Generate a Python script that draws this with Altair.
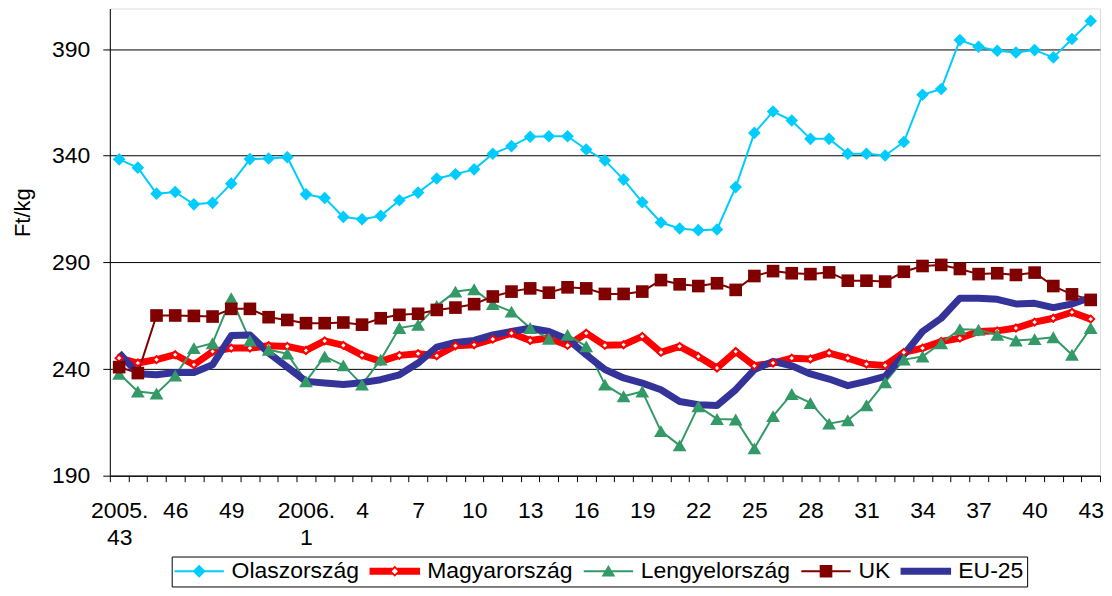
import altair as alt
import pandas as pd

series_names = ["Olaszország", "Magyarország", "Lengyelország", "UK", "EU-25"]
series_colors = ["#00CCFF", "#FF0000", "#339966", "#800000", "#333399"]

weeks = ["2005.43", "2005.44", "2005.45", "2005.46", "2005.47", "2005.48", "2005.49",
         "2005.50", "2005.51", "2005.52",
         "2006.1", "2006.2", "2006.3", "2006.4", "2006.5", "2006.6", "2006.7", "2006.8",
         "2006.9", "2006.10", "2006.11", "2006.12", "2006.13", "2006.14", "2006.15",
         "2006.16", "2006.17", "2006.18", "2006.19", "2006.20", "2006.21", "2006.22",
         "2006.23", "2006.24", "2006.25", "2006.26", "2006.27", "2006.28", "2006.29",
         "2006.30", "2006.31", "2006.32", "2006.33", "2006.34", "2006.35", "2006.36",
         "2006.37", "2006.38", "2006.39", "2006.40", "2006.41", "2006.42", "2006.43"]

tick_labels = ["2005.\n43", "", "", "46", "", "", "49", "", "", "",
               "2006.\n1", "", "", "4", "", "", "7", "", "", "10", "", "", "13",
               "", "", "16", "", "", "19", "", "", "22", "", "", "25", "", "", "28",
               "", "", "31", "", "", "34", "", "", "37", "", "", "40", "", "", "43"]

olasz = [338.3, 334.4, 322.2, 323.0, 317.2, 317.9, 326.9, 338.4, 338.7, 339.3,
         321.9, 320.2, 311.3, 310.2, 311.8, 319.1, 322.7, 329.3, 331.3, 333.6,
         340.9, 344.5, 348.9, 349.1, 349.1, 342.9, 337.8, 328.8, 318.2, 308.7,
         305.9, 305.1, 305.4, 325.3, 350.7, 360.7, 356.5, 347.9, 347.9, 340.9,
         340.9, 340.1, 346.4, 368.6, 371.3, 394.2, 391.1, 389.2, 388.4, 389.5,
         386.1, 394.7, 403.2]

magyar = [245.1, 242.8, 244.4, 246.7, 242.0, 248.2, 249.8, 249.8, 250.9, 250.6,
          248.7, 253.2, 251.1, 246.5, 243.6, 246.4, 247.2, 246.2, 250.9, 251.4,
          254.0, 256.8, 253.4, 254.5, 251.1, 256.8, 251.1, 251.4, 255.3, 247.8,
          250.6, 245.9, 240.5, 248.2, 241.5, 242.8, 245.1, 244.7, 247.5, 245.1,
          242.3, 241.7, 247.8, 249.8, 252.9, 254.5, 257.6, 257.9, 259.2, 262.0,
          263.8, 266.6, 263.4]

lengyel = [237.8, 229.5, 228.5, 236.9, 249.8, 252.1, 273.2, 253.4, 249.0, 247.2,
           234.2, 245.9, 241.7, 232.7, 244.4, 259.2, 260.7, 269.6, 276.3, 277.4,
           270.5, 266.9, 259.2, 254.2, 256.0, 250.6, 232.7, 227.2, 229.5, 210.9,
           204.2, 222.5, 216.6, 216.3, 202.8, 217.9, 228.3, 224.1, 214.4, 216.0,
           223.0, 233.8, 244.4, 245.9, 252.1, 258.7, 258.4, 256.0, 253.4, 254.0,
           254.9, 246.7, 259.2]

uk = [240.9, 238.1, 265.1, 265.1, 264.9, 264.6, 268.2, 268.2, 264.3, 263.0,
      261.5, 261.5, 261.8, 260.8, 263.8, 265.4, 265.9, 267.7, 268.8, 270.4,
      274.0, 276.3, 277.8, 275.8, 278.3, 277.8, 275.2, 275.2, 276.3, 281.7,
      279.7, 278.9, 280.2, 277.1, 283.6, 285.9, 284.9, 284.5, 285.3, 281.4,
      281.4, 281.0, 285.6, 288.3, 288.8, 286.9, 284.5, 284.9, 284.1, 285.2,
      278.9, 275.0, 272.4]

eu25 = [247.5, 237.8, 237.3, 238.4, 238.4, 242.0, 255.7, 256.0, 247.5, 240.9,
        234.2, 233.4, 232.7, 233.6, 235.0, 237.3, 242.8, 250.3, 252.5, 253.4,
        256.0, 257.6, 259.2, 257.6, 254.0, 246.7, 239.8, 235.8, 233.4, 230.3,
        224.8, 223.3, 222.9, 230.3, 239.7, 243.6, 241.5, 237.7, 235.3, 232.2,
        234.2, 236.6, 246.7, 257.6, 263.8, 273.2, 273.2, 272.7, 270.5, 270.8,
        268.8, 270.5, 273.5]

series_values = [olasz, magyar, lengyel, uk, eu25]

df = pd.DataFrame({"idx": list(range(len(weeks))), "week": weeks})
for name, vals in zip(series_names, series_values):
    df[name] = vals
long_df = df.melt(id_vars=["idx", "week"], var_name="series", value_name="value")

FONT = "Liberation Sans"
FS = 23


def js_label(s):
    parts = s.split("\n")
    if len(parts) > 1:
        return "[" + ",".join("'" + p + "'" for p in parts) + "]"
    return "'" + s + "'"


label_expr = "[" + ",".join(js_label(s) for s in tick_labels) + "][datum.value]"

x_enc = alt.X(
    "idx:O", title=None,
    scale=alt.Scale(paddingInner=0, paddingOuter=0),
    axis=alt.Axis(labelExpr=label_expr, labelAngle=0, labelOverlap=False,
                  tickBand="extent", tickSize=6, tickColor="black", tickWidth=1,
                  domainColor="black", domainWidth=1, labelFontSize=FS,
                  labelColor="black", labelPadding=18, labelLineHeight=27,
                  labelBaseline="top", grid=False, labelFont=FONT),
)

y_enc = alt.Y(
    "value:Q",
    scale=alt.Scale(domain=[190, 409], nice=False, zero=False),
    axis=alt.Axis(title="Ft/kg", values=[190, 240, 290, 340, 390], grid=True,
                  gridColor="black", gridOpacity=1, gridWidth=1, tickSize=7,
                  tickColor="black", domainColor="black", labelFontSize=FS,
                  labelColor="black", labelPadding=13, labelFont=FONT,
                  titleFontSize=22, titleFontWeight="normal", titleColor="black",
                  titleFont=FONT, titleX=-87, titleY=204, titleAngle=270,
                  titleBaseline="middle", titleAlign="center"),
)

line_widths = {"Olaszország": 2, "Magyarország": 7, "Lengyelország": 2, "UK": 2, "EU-25": 7}

lines = []
for name, col in zip(series_names, series_colors):
    lines.append(
        alt.Chart(long_df).transform_filter(alt.datum.series == name)
        .mark_line(color=col, strokeWidth=line_widths[name], strokeJoin="round")
        .encode(x=x_enc, y=y_enc)
    )

points = [
    alt.Chart(long_df).transform_filter(alt.datum.series == "Olaszország")
    .mark_point(shape="diamond", filled=True, size=160, color="#00CCFF", opacity=1)
    .encode(x=x_enc, y=y_enc),
    alt.Chart(long_df).transform_filter(alt.datum.series == "Magyarország")
    .mark_point(shape="diamond", filled=True, size=50, fill="white", stroke="#FF0000",
                strokeWidth=2, opacity=1, fillOpacity=1)
    .encode(x=x_enc, y=y_enc),
    alt.Chart(long_df).transform_filter(alt.datum.series == "Lengyelország")
    .mark_point(shape="triangle-up", filled=True, size=190, color="#339966", opacity=1)
    .encode(x=x_enc, y=y_enc),
    alt.Chart(long_df).transform_filter(alt.datum.series == "UK")
    .mark_point(shape="square", filled=True, size=160, color="#800000", opacity=1)
    .encode(x=x_enc, y=y_enc),
]

thin_bar = "M-2.15,-0.09L2.15,-0.09L2.15,0.09L-2.15,0.09Z"
legend_paths = [
    thin_bar + "M0,-0.57L0.57,0L0,0.57L-0.57,0Z",
    "M-2.2,-0.3L-0.18,-0.3L-0.48,0L-0.18,0.3L-2.2,0.3Z"
    "M2.2,-0.3L0.18,-0.3L0.48,0L0.18,0.3L2.2,0.3Z"
    "M0,-0.48L0.48,0L0,0.48L-0.48,0Z"
    "M0,-0.27L-0.27,0L0,0.27L0.27,0Z",
    thin_bar + "M0,-0.55L0.6,0.45L-0.6,0.45Z",
    thin_bar + "M-0.55,-0.55L0.55,-0.55L0.55,0.55L-0.55,0.55Z",
    "M-2.2,-0.3L2.2,-0.3L2.2,0.3L-2.2,0.3Z",
]

legend = alt.Legend(title=None, orient="none", legendX=62, legendY=549,
                    direction="horizontal", columns=5, symbolSize=FS * FS,
                    symbolStrokeWidth=0, symbolOffset=13, labelOffset=21,
                    columnPadding=10, padding=3, strokeColor="black",
                    fillColor="white", labelFontSize=FS, labelColor="black",
                    labelFont=FONT, labelLimit=0, symbolOpacity=1)

legend_layer = (
    alt.Chart(long_df).transform_filter("false")
    .mark_point(filled=True, opacity=1)
    .encode(
        color=alt.Color("series:N", scale=alt.Scale(domain=series_names, range=series_colors),
                        legend=legend),
        shape=alt.Shape("series:N", scale=alt.Scale(domain=series_names, range=legend_paths),
                        legend=legend),
    )
)

chart = (
    alt.layer(*lines, *points, legend_layer)
    .properties(width=992, height=468,
                padding={"left": 4, "top": 0, "right": 0, "bottom": 0})
    .configure_view(stroke=None)
    .configure(font=FONT)
)

chart.save("out.html", embed_options={"renderer": "svg", "actions": False})
